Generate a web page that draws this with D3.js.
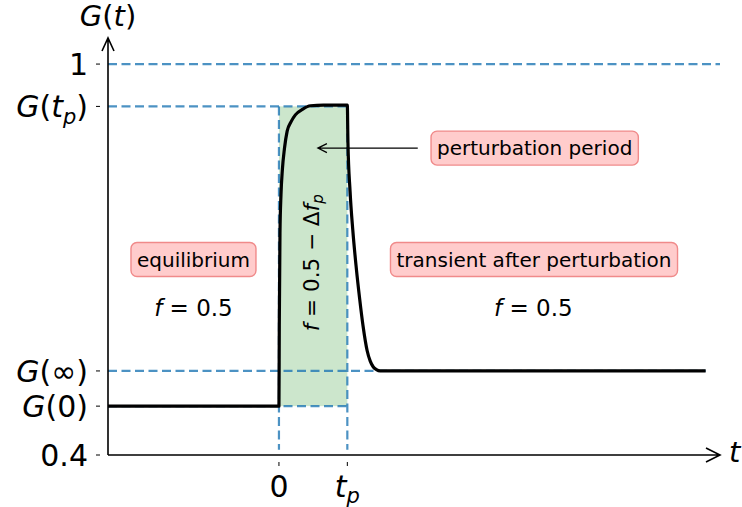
<!DOCTYPE html>
<html>
<head>
<meta charset="utf-8">
<script src="https://cdn.jsdelivr.net/npm/d3@7"></script>
<style>
  body { margin: 0; background: #fff; }
  text { font-family: "DejaVu Sans", sans-serif; fill: #000; }
</style>
</head>
<body>
<div id="chart"></div>
<script>
// Levels of G(t)
var G0 = 0.475, Ginf = 0.529, Gtp = 0.935, tp = 10;

// Curve
var curveT = [-25, 0, 0.05, 0.15, 0.3, 0.5, 0.8, 1.2, 1.8, 2.4, 3.5, 4.6, 6.5, 10,
              10.09, 10.4, 10.8, 11.3, 11.8, 12.3, 12.9, 13.35, 13.8, 14.25, 14.8, 62.4];
var curveG = [0.475, 0.475, 0.600, 0.740, 0.800, 0.838, 0.870, 0.897, 0.912, 0.922, 0.931, 0.936, 0.937, 0.937,
              0.880, 0.805, 0.745, 0.688, 0.640, 0.598, 0.560, 0.544, 0.535, 0.531, 0.529, 0.529];

// Tick values and labels
var yTicks = [0.4, G0, Ginf, Gtp, 1];
var yTickLabels = [
    [{t: "0.4"}],
    [{t: "G", i: 1}, {t: "(0)"}],
    [{t: "G", i: 1}, {t: "(∞)"}],
    [{t: "G", i: 1}, {t: "("}, {t: "t", i: 1}, {t: "p", i: 1, sub: 1}, {t: ")"}],
    [{t: "1"}]
];
var xTicks = [0, tp];
var xTickLabels = [
    [{t: "0"}],
    [{t: "t", i: 1}, {t: "p", i: 1, sub: 1}]
];

var width = 742, height = 507;

var x = d3.scaleLinear().domain([-25, 64.5]).range([108, 720]);
var y = d3.scaleLinear().domain([0.4, 1.04]).range([455, 38]);

var svg = d3.select("#chart").append("svg")
    .attr("width", width)
    .attr("height", height);

// write math-like text with italic letters and subscripts
function mathText(sel, parts) {
    var sub = false;
    parts.forEach(function(p) {
        var ts = sel.append("tspan").text(p.t);
        if (p.i) ts.attr("font-style", "italic");
        if (p.sub && !sub) { ts.attr("font-size", "70%").attr("dy", "0.3em"); sub = true; }
        else if (!p.sub && sub) { ts.attr("dy", "-0.21em"); sub = false; }
    });
    return sel;
}

// shaded perturbation period
svg.append("rect")
    .attr("x", x(0))
    .attr("y", y(Gtp))
    .attr("width", x(tp) - x(0))
    .attr("height", y(G0) - y(Gtp))
    .attr("fill", "rgb(204,230,204)");

// dashed guide lines
var dashes = [
    [-25, 1, 64.5, 1],
    [-25, Gtp, tp, Gtp],
    [-25, Ginf, 62.4, Ginf],
    [-25, G0, tp, G0],
    [0, Gtp, 0, 0.408],
    [tp, Gtp, tp, 0.408]
];
svg.selectAll(".guide").data(dashes).enter().append("line")
    .attr("class", "guide")
    .attr("x1", function(d) { return x(d[0]); })
    .attr("y1", function(d) { return y(d[1]); })
    .attr("x2", function(d) { return x(d[2]); })
    .attr("y2", function(d) { return y(d[3]); })
    .attr("stroke", "#1f77b4")
    .attr("stroke-opacity", 0.8)
    .attr("stroke-width", 2.2)
    .attr("stroke-dasharray", "9,4.5");

// the curve
var line = d3.line()
    .x(function(d) { return x(d[0]); })
    .y(function(d) { return y(d[1]); })
    .curve(d3.curveMonotoneX);

svg.append("path")
    .datum(d3.zip(curveT, curveG))
    .attr("d", line)
    .attr("fill", "none")
    .attr("stroke", "#000")
    .attr("stroke-width", 3.2)
    .attr("stroke-linejoin", "round");

// axes with arrows
var x0 = x(-25), xEnd = x(64.5), yBase = y(0.4), yTop = y(1.04);
svg.append("path")
    .attr("d", "M" + x0 + "," + yBase + "H" + xEnd + "M" + (xEnd - 14) + "," + (yBase - 7) + "L" + xEnd + "," + yBase + "L" + (xEnd - 14) + "," + (yBase + 7))
    .attr("fill", "none").attr("stroke", "#000").attr("stroke-width", 1.6);
svg.append("path")
    .attr("d", "M" + x0 + "," + yBase + "V" + yTop + "M" + (x0 - 6) + "," + (yTop + 13) + "L" + x0 + "," + yTop + "L" + (x0 + 6) + "," + (yTop + 13))
    .attr("fill", "none").attr("stroke", "#000").attr("stroke-width", 1.6);

// y ticks
yTicks.forEach(function(v, i) {
    svg.append("line")
        .attr("x1", 96).attr("x2", 100)
        .attr("y1", y(v)).attr("y2", y(v))
        .attr("stroke", "#000").attr("stroke-width", 1);
    mathText(svg.append("text")
        .attr("x", 88)
        .attr("y", y(v) + 11)
        .attr("text-anchor", "end")
        .attr("font-size", 30), yTickLabels[i]);
});

// x ticks
xTicks.forEach(function(v, i) {
    svg.append("line")
        .attr("x1", x(v)).attr("x2", x(v))
        .attr("y1", 462).attr("y2", 466)
        .attr("stroke", "#000").attr("stroke-width", 1);
    mathText(svg.append("text")
        .attr("x", x(v))
        .attr("y", 497)
        .attr("text-anchor", "middle")
        .attr("font-size", 30), xTickLabels[i]);
});

// axis labels
mathText(svg.append("text")
    .attr("x", x0).attr("y", 26)
    .attr("text-anchor", "middle")
    .attr("font-size", 29), [{t: "G", i: 1}, {t: "("}, {t: "t", i: 1}, {t: ")"}]);
mathText(svg.append("text")
    .attr("x", 729).attr("y", 462)
    .attr("font-size", 29), [{t: "t", i: 1}]);

// boxed annotations
var boxes = [
    {text: "equilibrium", t: -12.5, g: 0.700},
    {text: "transient after perturbation", t: 37.3, g: 0.700},
    {text: "perturbation period", t: 37.4, g: 0.871}
];
boxes.forEach(function(b) {
    var g = svg.append("g");
    var txt = g.append("text")
        .attr("x", x(b.t))
        .attr("y", y(b.g) + 7)
        .attr("text-anchor", "middle")
        .attr("font-size", 20)
        .text(b.text);
    var bb = txt.node().getBBox();
    g.insert("rect", "text")
        .attr("x", bb.x - 6).attr("y", bb.y - 5)
        .attr("width", bb.width + 12).attr("height", bb.height + 10)
        .attr("rx", 6)
        .attr("fill", "#ffcccc")
        .attr("stroke", "#f08a8a")
        .attr("stroke-width", 1.4);
});

// f = 0.5 labels
[-12.5, 37.2].forEach(function(t) {
    mathText(svg.append("text")
        .attr("x", x(t)).attr("y", y(0.626) + 8)
        .attr("text-anchor", "middle")
        .attr("font-size", 23), [{t: "f", i: 1}, {t: " = 0.5"}]);
});

// rotated label in the perturbation period
mathText(svg.append("text")
    .attr("transform", "translate(" + (x(4.8) + 7) + "," + y(0.695) + ") rotate(-90)")
    .attr("text-anchor", "middle")
    .attr("font-size", 21.5), [{t: "f", i: 1}, {t: " = 0.5 − Δ"}, {t: "f", i: 1}, {t: "p", i: 1, sub: 1}]);

// arrow pointing into the perturbation period
var ax1 = x(20.3), ax2 = x(5.7), ay = y(0.871);
svg.append("path")
    .attr("d", "M" + ax1 + "," + ay + "H" + ax2 + "M" + (ax2 + 9) + "," + (ay - 4.5) + "L" + ax2 + "," + ay + "L" + (ax2 + 9) + "," + (ay + 4.5))
    .attr("fill", "none").attr("stroke", "#000").attr("stroke-width", 1.3);
</script>
</body>
</html>
